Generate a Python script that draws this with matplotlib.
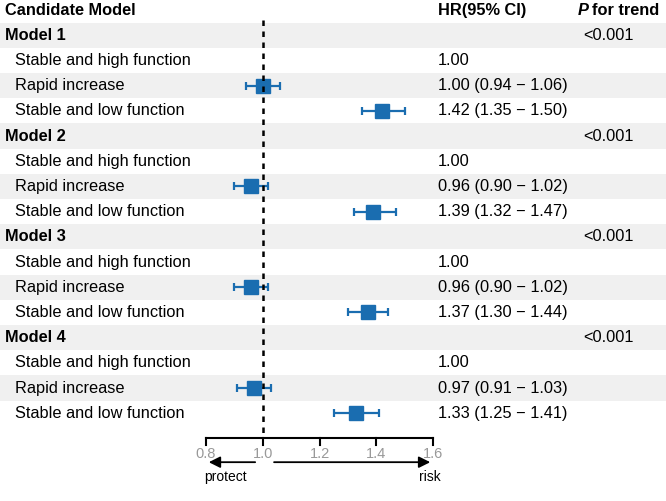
import matplotlib.pyplot as plt
from matplotlib.transforms import blended_transform_factory

plt.rcParams['font.family'] = ['Liberation Sans', 'DejaVu Sans']

# data
models = ['Model 1', 'Model 2', 'Model 3', 'Model 4']
p_trend = ['<0.001', '<0.001', '<0.001', '<0.001']
subgroups = ['Stable and high function', 'Rapid increase', 'Stable and low function']
hr = [[1.00, 1.00, 1.42], [1.00, 0.96, 1.39], [1.00, 0.96, 1.37], [1.00, 0.97, 1.33]]
lo = [[None, 0.94, 1.35], [None, 0.90, 1.32], [None, 0.90, 1.30], [None, 0.91, 1.25]]
hi = [[None, 1.06, 1.50], [None, 1.02, 1.47], [None, 1.02, 1.44], [None, 1.03, 1.41]]
ticks = [0.8, 1.0, 1.2, 1.4, 1.6]

blue = '#1a6db0'
shade = '#f0f0f0'

fig = plt.figure(figsize=(6.66, 5.01), dpi=100)
ax = fig.add_axes([0, 0, 1, 1])
ax.set_xlim(0.074, 2.421)
ax.set_ylim(19.48, -0.397)
ax.axis('off')

tr = blended_transform_factory(fig.transFigure, ax.transData)
fs = 11.8

def px(x):
    return x / 666.0

# header
ax.text(px(5), 0, 'Candidate Model', transform=tr, fontsize=fs, fontweight='bold', va='center')
ax.text(px(438), 0, 'HR(95% CI)', transform=tr, fontsize=fs, fontweight='bold', va='center')
ax.text(px(578), 0, 'P', transform=tr, fontsize=fs, fontweight='bold', style='italic', va='center')
ax.text(px(592), 0, 'for trend', transform=tr, fontsize=fs, fontweight='bold', va='center')

row = 1
for g, m in enumerate(models):
    ax.axhspan(row - 0.5, row + 0.5, color=shade, zorder=0, lw=0)
    ax.text(px(5), row, m, transform=tr, fontsize=fs, fontweight='bold', va='center')
    ax.text(px(583), row, p_trend[g], transform=tr, fontsize=fs, va='center')
    row += 1
    for k, s in enumerate(subgroups):
        if row % 2 == 1:
            ax.axhspan(row - 0.5, row + 0.5, color=shade, zorder=0, lw=0)
        ax.text(px(15), row, s, transform=tr, fontsize=fs, va='center')
        if lo[g][k] is None:
            label = f'{hr[g][k]:.2f}'
        else:
            label = f'{hr[g][k]:.2f} ({lo[g][k]:.2f} \u2212 {hi[g][k]:.2f})'
            ax.errorbar(hr[g][k], row, xerr=[[hr[g][k] - lo[g][k]], [hi[g][k] - hr[g][k]]],
                        fmt='s', color=blue, ms=9.5, elinewidth=1.6, capsize=2.6,
                        capthick=1.6, zorder=3)
        ax.text(px(438), row, label, transform=tr, fontsize=fs, va='center')
        row += 1

# reference line
ax.plot([1.0, 1.0], [0.4, 17], color='black', lw=1.8, ls=(0, (2.2, 2.2)), zorder=4)

# bottom axis
ax.plot([ticks[0], ticks[-1]], [17, 17], color='black', lw=1.5)
for t in ticks:
    ax.plot([t, t], [17, 17.26], color='black', lw=1.5)
    ax.text(t, 17.6, f'{t:.1f}', ha='center', va='center', fontsize=10.5, color='#999999')

ax.annotate('', xy=(0.8, 17.94), xytext=(0.983, 17.94),
            arrowprops=dict(arrowstyle='-|>', color='black', lw=1.3, mutation_scale=17))
ax.annotate('', xy=(1.6, 17.94), xytext=(1.03, 17.94),
            arrowprops=dict(arrowstyle='-|>', color='black', lw=1.3, mutation_scale=17))
ax.text(0.867, 18.52, 'protect', ha='center', va='center', fontsize=10)
ax.text(1.59, 18.52, 'risk', ha='center', va='center', fontsize=10)

fig.savefig('out.png', dpi=100)
